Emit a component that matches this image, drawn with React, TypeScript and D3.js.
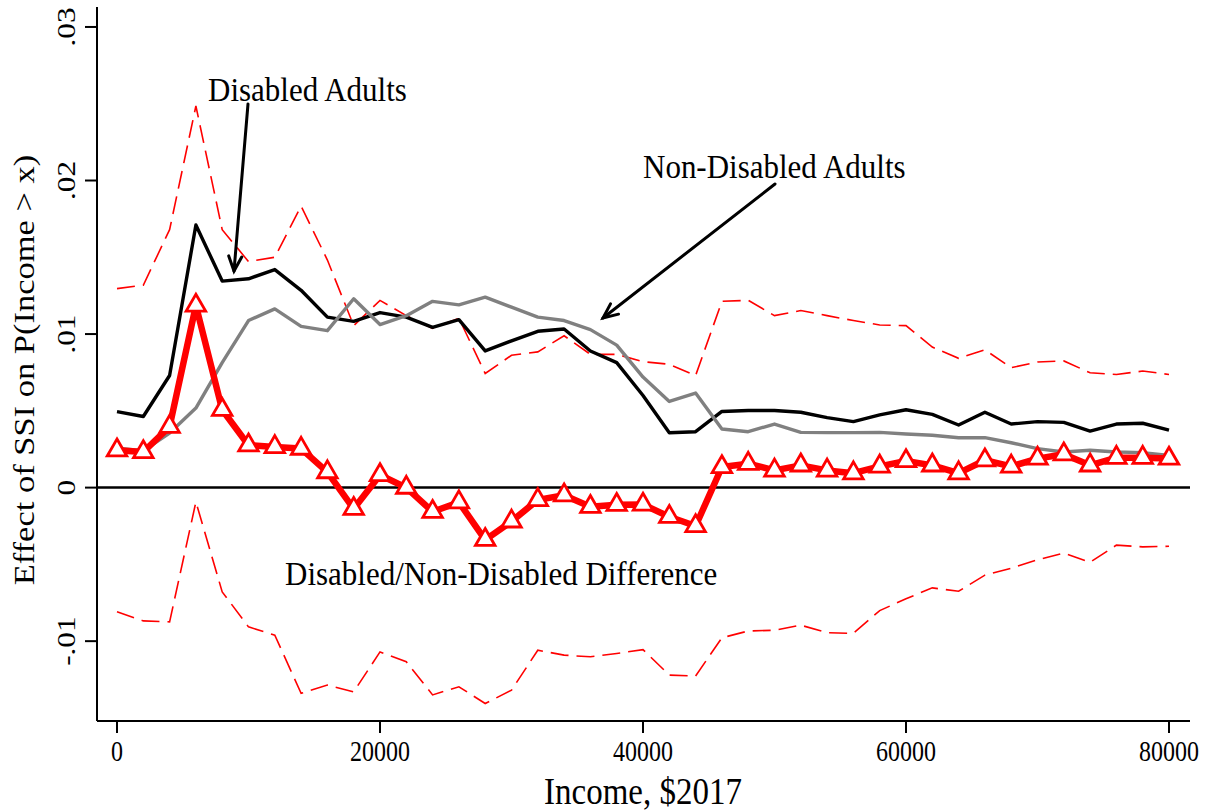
import React from 'react'
import * as d3 from 'd3'

const incomes = [
  0, 2000, 4000, 6000, 8000, 10000, 12000, 14000, 16000, 18000, 20000,
  22000, 24000, 26000, 28000, 30000, 32000, 34000, 36000, 38000, 40000,
  42000, 44000, 46000, 48000, 50000, 52000, 54000, 56000, 58000, 60000,
  62000, 64000, 66000, 68000, 70000, 72000, 74000, 76000, 78000, 80000,
]

const disabled = [
  0.00495, 0.00463, 0.0073, 0.0171, 0.01345, 0.0136, 0.0142, 0.01285, 0.0111, 0.01083, 0.0114,
  0.0111, 0.01044, 0.01094, 0.0089, 0.00956, 0.01018, 0.01033, 0.0089, 0.00814, 0.006,
  0.00357, 0.00364, 0.00496, 0.00502, 0.00502, 0.00491, 0.00456, 0.0043, 0.00474, 0.00507,
  0.00477, 0.00408, 0.00491, 0.00414, 0.0043, 0.00425, 0.00368, 0.00414, 0.00419, 0.00375,
]

const nonDisabled = [
  0.00256, 0.0024, 0.00355, 0.00518, 0.00814, 0.01088, 0.01164, 0.0105, 0.01022, 0.0123, 0.01062,
  0.0112, 0.01213, 0.0119, 0.0124, 0.01175, 0.0111, 0.01088, 0.01029, 0.00928, 0.0072,
  0.00561, 0.00616, 0.00382, 0.00364, 0.00414, 0.0036, 0.00358, 0.00358, 0.0036, 0.00349,
  0.00341, 0.00325, 0.00325, 0.00292, 0.00254, 0.00232, 0.00243, 0.00232, 0.00228, 0.0021,
]

const difference = [
  0.00243, 0.00232, 0.00397, 0.01186, 0.00507, 0.00276, 0.00265, 0.00254, 0.00101, -0.00138, 0.00082,
  0.0, -0.00157, -0.00095, -0.0034, -0.0022, -0.0008, -0.0005, -0.00125, -0.00112, -0.0011,
  -0.0019, -0.0025, 0.00134, 0.00156, 0.00112, 0.00145, 0.00112, 0.00094, 0.00138, 0.00173,
  0.00145, 0.00094, 0.00178, 0.00138, 0.00189, 0.00217, 0.00145, 0.00195, 0.00195, 0.00189,
]

const upperCI = [
  0.01296, 0.01318, 0.0168, 0.02485, 0.0168, 0.01472, 0.015, 0.01833, 0.01482, 0.01055, 0.01219,
  0.0112, 0.01037, 0.01103, 0.00743, 0.00862, 0.00884, 0.00989, 0.00868, 0.00868, 0.0082,
  0.00803, 0.0073, 0.01213, 0.0122, 0.0112, 0.01153, 0.0112, 0.01088, 0.01059, 0.01055,
  0.00915, 0.00842, 0.00897, 0.00781, 0.00818, 0.00825, 0.00748, 0.00737, 0.00759, 0.00737,
]

const lowerCI = [
  -0.00809, -0.00868, -0.00874, -0.00093, -0.00679, -0.00907, -0.00961, -0.0134, -0.01286, -0.0133, -0.0107,
  -0.01134, -0.0135, -0.01297, -0.01406, -0.01319, -0.01059, -0.01091, -0.01102, -0.0108, -0.01055,
  -0.01221, -0.01227, -0.00978, -0.00934, -0.00929, -0.00896, -0.00945, -0.00949, -0.00801, -0.00724,
  -0.00653, -0.00675, -0.0057, -0.00525, -0.0047, -0.00426, -0.00486, -0.00375, -0.00386, -0.00382,
]

const xTicks = [0, 20000, 40000, 60000, 80000]
const yTicks = [-0.01, 0, 0.01, 0.02, 0.03]
const yTickLabels = ['-.01', '0', '.01', '.02', '.03']

const W = 1218
const H = 812
const FONT = '"Liberation Serif", "Times New Roman", serif'

const x = d3.scaleLinear().domain([0, 80000]).range([117, 1169])
const y = d3.scaleLinear().domain([-0.0152, 0.0313]).range([721, 7])

const axisLeft = 97
const axisRight = 1190
const axisBottom = y(-0.0152)

type Pt = [number, number]

const lineGen = d3.line<Pt>().x(d => x(d[0])).y(d => y(d[1]))
const pts = (vals: number[]): Pt[] => incomes.map((v, i) => [v, vals[i]])

// hollow triangle marker
const tri = d3.symbol(d3.symbolTriangle, 165)()

const Arrow: React.FC<{ x1: number; y1: number; x2: number; y2: number }> = ({ x1, y1, x2, y2 }) => {
  const a = Math.atan2(y2 - y1, x2 - x1)
  const len = 16
  const spread = 0.42
  const h1: Pt = [x2 - len * Math.cos(a - spread), y2 - len * Math.sin(a - spread)]
  const h2: Pt = [x2 - len * Math.cos(a + spread), y2 - len * Math.sin(a + spread)]
  return (
    <g stroke="#000" strokeWidth={3} fill="none" strokeLinecap="round">
      <line x1={x1} y1={y1} x2={x2} y2={y2} />
      <polyline points={`${h1[0]},${h1[1]} ${x2},${y2} ${h2[0]},${h2[1]}`} />
    </g>
  )
}

export default function App() {
  return (
    <div style={{ position: 'absolute', left: 0, top: 0 }}>
      <svg width={W} height={H} style={{ display: 'block', background: '#fff' }} fontFamily={FONT}>
        {/* axes */}
        <line x1={axisLeft} y1={7} x2={axisLeft} y2={axisBottom} stroke="#000" strokeWidth={2} />
        <line x1={axisLeft} y1={axisBottom} x2={axisRight} y2={axisBottom} stroke="#000" strokeWidth={2} />
        {yTicks.map((t, i) => (
          <g key={t}>
            <line x1={axisLeft - 12} x2={axisLeft} y1={y(t)} y2={y(t)} stroke="#000" strokeWidth={2} />
            <text
              transform={`translate(75,${y(t)}) rotate(-90) scale(1.2,1)`}
              textAnchor="middle"
              fontSize={26}
            >
              {yTickLabels[i]}
            </text>
          </g>
        ))}
        {xTicks.map(t => (
          <g key={t}>
            <line x1={x(t)} x2={x(t)} y1={axisBottom} y2={axisBottom + 12} stroke="#000" strokeWidth={2} />
            <text transform={`translate(${x(t)},761) scale(1,1.25)`} textAnchor="middle" fontSize={24}>
              {t}
            </text>
          </g>
        ))}
        <text transform="translate(643,804) scale(1,1.12)" textAnchor="middle" fontSize={33}>
          Income, $2017
        </text>
        <text transform="translate(34,370) rotate(-90) scale(1.15,1)" textAnchor="middle" fontSize={30}>
          Effect of SSI on P(Income &gt; x)
        </text>

        {/* zero line */}
        <line x1={axisLeft} x2={axisRight} y1={y(0)} y2={y(0)} stroke="#000" strokeWidth={2.5} />

        {/* confidence bands */}
        <path d={lineGen(pts(upperCI)) ?? ''} fill="none" stroke="#ff0000" strokeWidth={1.6} strokeDasharray="18 8" />
        <path d={lineGen(pts(lowerCI)) ?? ''} fill="none" stroke="#ff0000" strokeWidth={1.6} strokeDasharray="18 8" />

        {/* series */}
        <path d={lineGen(pts(disabled)) ?? ''} fill="none" stroke="#000" strokeWidth={3.4} strokeLinejoin="round" />
        <path d={lineGen(pts(nonDisabled)) ?? ''} fill="none" stroke="#808080" strokeWidth={3.4} strokeLinejoin="round" />
        <path d={lineGen(pts(difference)) ?? ''} fill="none" stroke="#ff0000" strokeWidth={6.5} strokeLinejoin="round" />
        {pts(difference).map(d => (
          <path
            key={d[0]}
            d={tri ?? ''}
            transform={`translate(${x(d[0])},${y(d[1])})`}
            fill="#fff"
            stroke="#ff0000"
            strokeWidth={2.8}
          />
        ))}

        {/* annotations */}
        <text transform="translate(208,101) scale(1,1.1)" fontSize={31}>
          Disabled Adults
        </text>
        <Arrow x1={248} y1={104} x2={234} y2={271} />
        <text transform="translate(643,178) scale(1,1.1)" fontSize={31}>
          Non-Disabled Adults
        </text>
        <Arrow x1={775} y1={184} x2={603} y2={318} />
        <text transform="translate(285,585) scale(1,1.1)" fontSize={31}>
          Disabled/Non-Disabled Difference
        </text>
      </svg>
    </div>
  )
}
